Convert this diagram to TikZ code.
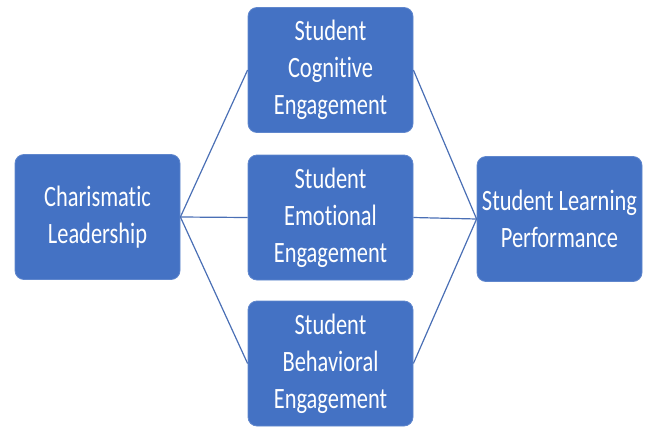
\documentclass[tikz,border=0pt]{standalone}
\usepackage{fontspec}
\setmainfont[FakeStretch=0.76,Ligatures={NoCommon}]{Carlito}
\definecolor{boxblue}{HTML}{4472C4}
\definecolor{linkblue}{HTML}{4A6FB5}
\begin{document}
\begin{tikzpicture}[x=1pt,y=-1pt,
  block/.style={rectangle, rounded corners=9pt, fill=boxblue, draw=boxblue!85!white,
    line width=0.8pt, minimum width=165pt, minimum height=125pt, text=white,
    align=center, inner sep=0pt, font=\fontsize{29.5}{37}\selectfont},
  link/.style={draw=linkblue, line width=1.2pt}]
\useasboundingbox (0,0) rectangle (648,426);
\node[block] (lead) at (97.5,217) {Charismatic\\Leadership};
\node[block] (cog) at (330.5,70) {Student\\Cognitive\\Engagement};
\node[block] (emo) at (330.5,217.5) {Student\\Emotional\\Engagement};
\node[block] (beh) at (330.5,363.5) {Student\\Behavioral\\Engagement};
\node[block] (perf) at (559.5,219) {Student Learning\\Performance};
\draw[link] (lead.east) -- (cog.west);
\draw[link] (lead.east) -- (emo.west);
\draw[link] (lead.east) -- (beh.west);
\draw[link] (cog.east) -- (perf.west);
\draw[link] (emo.east) -- (perf.west);
\draw[link] (beh.east) -- (perf.west);
\end{tikzpicture}
\end{document}
